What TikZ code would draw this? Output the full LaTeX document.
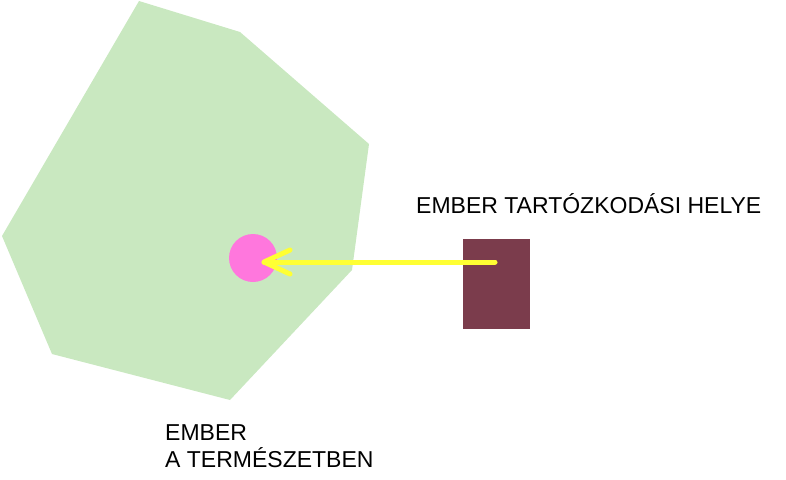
\documentclass[tikz,border=0pt]{standalone}
\usepackage{fontspec}
\setmainfont{Liberation Sans}
\usetikzlibrary{arrows}
\definecolor{terulet}{HTML}{C9E8C0}
\definecolor{pont}{HTML}{FF77DD}
\definecolor{haz}{HTML}{7B3C4C}
\definecolor{nyil}{HTML}{FFFF33}
\tikzset{felirat/.style={font=\fontsize{23}{27}\selectfont, text=black, inner sep=0pt}}
\begin{document}
\begin{tikzpicture}[x=1pt,y=-1pt]
\useasboundingbox (0,0) rectangle (786,479);
% Termeszet (zold terulet)
\fill [color=terulet]
(139,1) -- (240,32) -- (369,144) -- (352,270) -- (230,400) -- (52,354) -- (2,236) -- cycle;

% Ember a termeszetben
\fill [color=pont] (253,258) circle (24);
\coordinate (cel) at (264,262);

% Ember tartozkodasi helye
\node [fill=haz, minimum width=67pt, minimum height=90pt, inner sep=0pt, anchor=north west] (hely) at (463,239) {};
\coordinate (indul) at (495,262);

% Nyil
\draw [color=nyil, line width=5pt, line cap=round, line join=round]
(indul) -- (cel);
\draw [color=nyil, line width=5pt, line cap=round, line join=round]
(290,250) -- (cel) -- (290,274);

\node [felirat, anchor=base west] (cim) at (416,213) {EMBER TARTÓZKODÁSI HELYE};
\node [felirat, anchor=base west, align=left] (termeszet) at (165,467) {EMBER\\A TERMÉSZETBEN};
\end{tikzpicture}
\end{document}
